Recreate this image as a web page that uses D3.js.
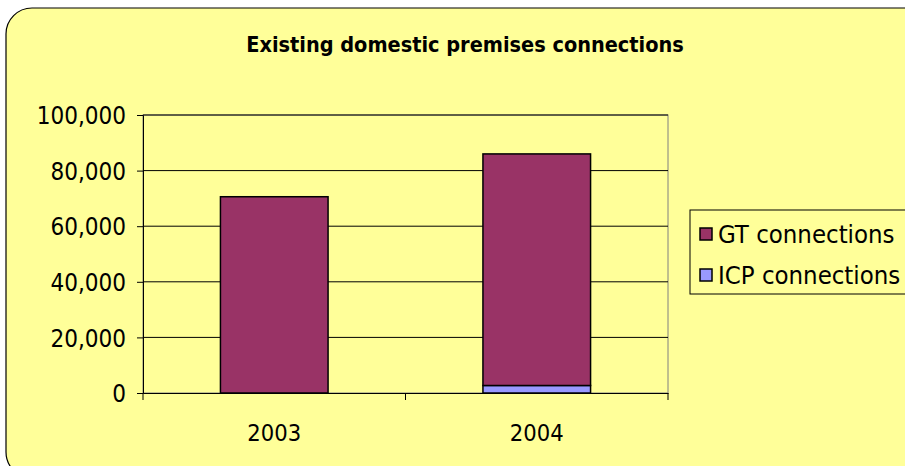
<!DOCTYPE html>
<html>
<head>
<meta charset="utf-8">
<script src="https://cdn.jsdelivr.net/npm/d3@7"></script>
<style>
  body { margin: 0; background: #fff; }
  svg text { font-family: "DejaVu Sans Condensed", "Liberation Sans Narrow", sans-serif; fill: #000; }
</style>
</head>
<body>
<svg id="chart" width="905" height="466"></svg>
<script>
const years = ["2003", "2004"];
const gtConnections = [70600, 83300];
const icpConnections = [0, 2700];
const seriesNames = ["GT connections", "ICP connections"];
const seriesColors = ["#993366", "#9999FF"];
const yTicks = [0, 20000, 40000, 60000, 80000, 100000];

const svg = d3.select("#chart");

// chart area background
svg.append("rect")
  .attr("x", 6).attr("y", 8)
  .attr("width", 930).attr("height", 470)
  .attr("rx", 26).attr("ry", 26)
  .attr("fill", "#FFFF99")
  .attr("stroke", "#000")
  .attr("stroke-width", 1.2);

svg.append("text")
  .attr("x", 465).attr("y", 52)
  .attr("text-anchor", "middle")
  .style("font-size", "21.5px")
  .style("font-weight", "bold")
  .text("Existing domestic premises connections");

const plot = { left: 143, right: 668, top: 115, bottom: 393 };

const x = d3.scaleBand()
  .domain(years)
  .range([plot.left, plot.right])
  .paddingInner(0.59)
  .paddingOuter(0.295);

const y = d3.scaleLinear()
  .domain([0, 100000])
  .range([plot.bottom, plot.top]);

// plot border (grey)
svg.append("rect")
  .attr("x", plot.left).attr("y", plot.top)
  .attr("width", plot.right - plot.left).attr("height", plot.bottom - plot.top)
  .attr("fill", "none")
  .attr("stroke", "#808080")
  .attr("stroke-width", 1);

// gridlines
svg.append("g")
  .selectAll("line")
  .data(yTicks.slice(1))
  .join("line")
  .attr("x1", plot.left).attr("x2", plot.right)
  .attr("y1", d => y(d)).attr("y2", d => y(d))
  .attr("stroke", "#000")
  .attr("stroke-width", 1);

// stacked bars
const rows = years.map((yr, i) => ({ year: yr, gt: gtConnections[i], icp: icpConnections[i] }));
const stack = d3.stack().keys(["icp", "gt"])(rows);
const colorByKey = { gt: seriesColors[0], icp: seriesColors[1] };

svg.append("g")
  .selectAll("g")
  .data(stack)
  .join("g")
  .attr("fill", d => colorByKey[d.key])
  .selectAll("rect")
  .data(d => d.filter(s => s[1] - s[0] > 0))
  .join("rect")
  .attr("x", d => x(d.data.year))
  .attr("y", d => y(d[1]))
  .attr("width", x.bandwidth())
  .attr("height", d => y(d[0]) - y(d[1]))
  .attr("stroke", "#000")
  .attr("stroke-width", 1.5);

// y axis
const yAxis = svg.append("g")
  .attr("transform", `translate(${plot.left},0)`)
  .call(d3.axisLeft(y).tickValues(yTicks).tickSize(6).tickPadding(11)
    .tickFormat(d3.format(",")));
yAxis.selectAll("text").style("font-size", "24px").attr("dy", "0.36em");
yAxis.selectAll("line, path").attr("stroke", "#000");

// x axis with ticks at category boundaries
const xAxis = svg.append("g")
  .attr("transform", `translate(0,${plot.bottom})`)
  .call(d3.axisBottom(x).tickSize(0).tickPadding(31));
xAxis.selectAll("text").style("font-size", "23.5px");
xAxis.select("path").attr("stroke", "#000");
const bounds = [plot.left, (plot.left + plot.right) / 2, plot.right];
xAxis.selectAll("line.bound")
  .data(bounds)
  .join("line")
  .attr("class", "bound")
  .attr("x1", d => d).attr("x2", d => d)
  .attr("y1", 0).attr("y2", 7)
  .attr("stroke", "#000");

// legend
const legend = svg.append("g");
legend.append("rect")
  .attr("x", 690).attr("y", 210)
  .attr("width", 240).attr("height", 84)
  .attr("fill", "#FFFF99")
  .attr("stroke", "#000")
  .attr("stroke-width", 1);
const items = legend.selectAll("g.item")
  .data(seriesNames)
  .join("g")
  .attr("class", "item")
  .attr("transform", (d, i) => `translate(700,${234 + i * 41})`);
items.append("rect")
  .attr("x", 0).attr("y", -6)
  .attr("width", 12).attr("height", 12)
  .attr("fill", (d, i) => seriesColors[i])
  .attr("stroke", "#000")
  .attr("stroke-width", 1.5);
items.append("text")
  .attr("x", 18).attr("y", 0)
  .attr("dy", "0.36em")
  .style("font-size", "25.5px")
  .text(d => d);
</script>
</body>
</html>
